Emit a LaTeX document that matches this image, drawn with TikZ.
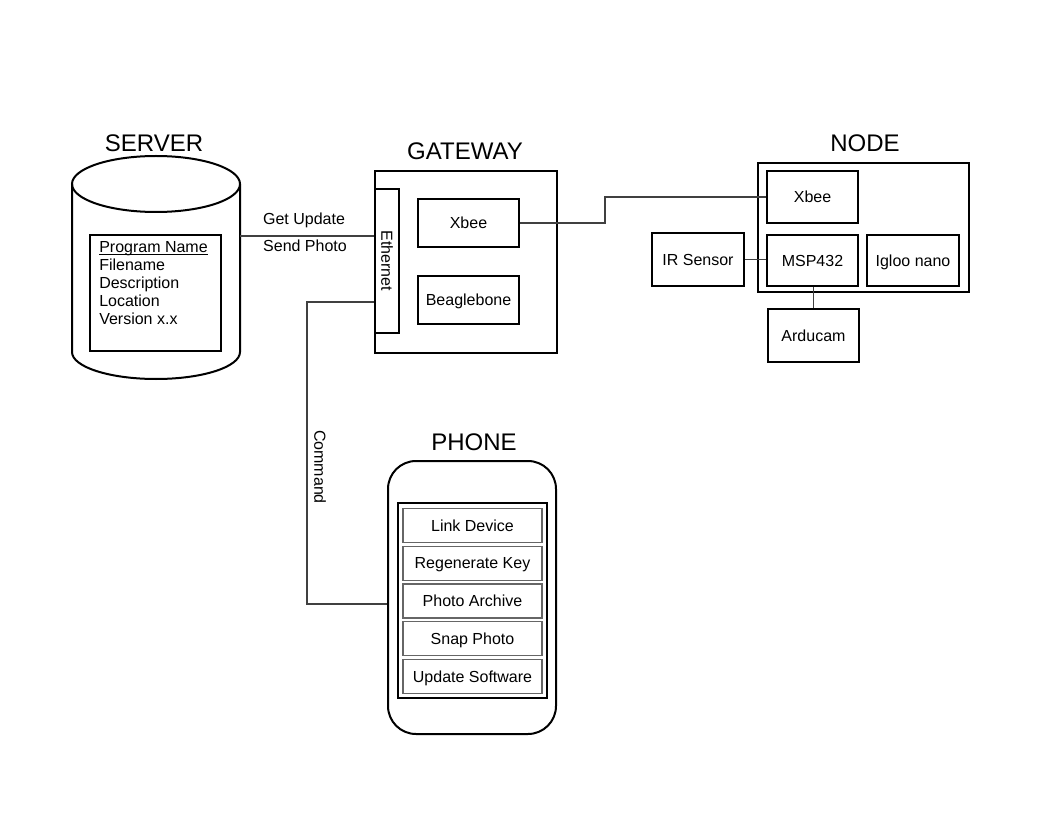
\documentclass[tikz,border=0pt]{standalone}
\usepackage{fontspec}
\setmainfont{Liberation Sans}
\usepackage{tikz}
\usetikzlibrary{positioning}

\tikzset{
	box/.style={draw, line width=1.5pt, inner sep=0pt, text height=8.6pt, text depth=0pt, font=\fontsize{12}{14}\selectfont},
	btn/.style={draw=black!60, line width=0.9pt, inner sep=0pt, text height=8.6pt, text depth=0pt, minimum width=104.25pt, minimum height=25.5pt, font=\fontsize{12}{14}\selectfont},
	conn/.style={draw=black!75, line width=0.8pt},
	title/.style={font=\fontsize{18}{21}\selectfont, inner sep=0pt},
	lbl/.style={font=\fontsize{12}{14}\selectfont, inner sep=0pt}
}

\begin{document}
\begin{tikzpicture}[x=0.75pt, y=-0.75pt]
	\useasboundingbox (0,0) rectangle (1056,816);

	% server
	\node[title] (servertitle) at (154,143) {SERVER};
	\draw[line width=1.5pt] (72,184) -- (72,352) arc[start angle=180, end angle=0, x radius=84, y radius=27] -- (240,184);
	\draw[line width=1.5pt] (156,184) ellipse[x radius=84, y radius=28];
	\node[box, minimum width=98.25pt, minimum height=87pt] (record) at (155.5,293) {};
	\node[lbl, anchor=north west, align=left, font=\fontsize{12}{13.5}\selectfont] (fields) at (99,240.5) {\rule{0pt}{8.6pt}\underline{\smash{Program Name}}\\Filename\\Description\\Location\\Version x.x};
	\coordinate (srv) at (240,236);

	% gateway
	\node[title] (gatewaytitle) at (465,151.5) {GATEWAY};
	\node[box, minimum width=136.5pt, minimum height=136.5pt] (gateway) at (466,262) {};
	\node[box, minimum width=18pt, minimum height=108pt] (ethernet) at (387,261) {};
	\node[lbl, rotate=-90] (ethlabel) at (ethernet.center) {Ethernet};
	\node[box, minimum width=75.75pt, minimum height=36pt] (gxbee) at (468.5,223) {Xbee};
	\node[box, minimum width=75.75pt, minimum height=36pt] (beagle) at (468.5,300) {Beaglebone};

	\draw[conn] (srv) -- (srv -| ethernet.west);
	\node[lbl, anchor=base] (getupd) at (304,225) {Get Update};
	\node[lbl, anchor=base] (sendph) at (305,252) {Send Photo};

	% node
	\node[title] (nodetitle) at (865,143.5) {NODE};
	\node[box, minimum width=158.25pt, minimum height=96.75pt] (sensor) at (863.5,227.5) {};
	\node[box, minimum width=68.25pt, minimum height=39pt] (nxbee) at (812.5,197) {Xbee};
	\node[box, minimum width=68.25pt, minimum height=38.25pt] (msp) at (812.5,260.5) {MSP432};
	\node[box, minimum width=69pt, minimum height=38.25pt] (igloo) at (913,260.5) {Igloo nano};
	\node[box, minimum width=69pt, minimum height=39.75pt] (ir) at (698,259.5) {IR Sensor};
	\node[box, minimum width=68.25pt, minimum height=39.75pt] (arducam) at (813.5,335.5) {Arducam};

	\coordinate (hop) at (605,210);
	\draw[conn] (gxbee.east) -| (hop) |- (nxbee.west);
	\draw[conn] (ir.east) -- (ir.east -| msp.west);
	\draw[conn] (arducam.north) -- (arducam.north |- msp.south);

	% phone
	\node[title] (phonetitle) at (474,442.5) {PHONE};
	\node[box, rounded corners=21pt, minimum width=126pt, minimum height=204.75pt] (phone) at (472,597.5) {};
	\node[box, minimum width=111.75pt, minimum height=146.25pt] (screen) at (472.5,600.5) {};
	\foreach \txt [count=\i] in {Link Device, Regenerate Key, Photo Archive, Snap Photo, Update Software}
		\node[btn] (btn\i) at (472.5,{525.5+(\i-1)*37.75}) {\txt};

	\coordinate (cmd) at (307,302);
	\coordinate (cmdend) at (307,604);
	\draw[conn] (ethernet.west |- cmd) -- (cmd) -- (cmdend) -- (cmdend -| phone.west);
	\node[lbl, rotate=-90] (cmdlabel) at (320,467) {Command};
\end{tikzpicture}
\end{document}
